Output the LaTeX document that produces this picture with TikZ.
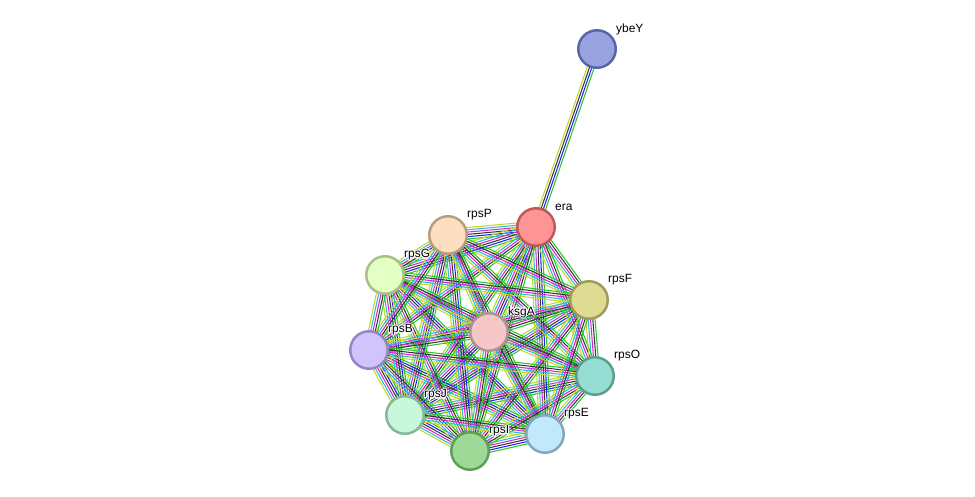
\documentclass[tikz,border=0pt]{standalone}
\usepackage{fontspec}
\setmainfont{Liberation Sans}
\usetikzlibrary{calc,backgrounds}

% evidence channels
\definecolor{tm}{RGB}{196,214,40}
\definecolor{db}{RGB}{45,185,215}
\definecolor{ex}{RGB}{212,40,212}
\definecolor{co}{RGB}{55,55,55}
\definecolor{oc}{RGB}{35,35,240}
\definecolor{nb}{RGB}{40,200,40}

\def\allsix{tm/-3.25pt,db/-1.95pt,ex/-0.65pt,co/0.65pt,oc/1.95pt,nb/3.25pt}
\def\five{tm/-2.6pt,db/-1.3pt,ex/0pt,co/1.3pt,nb/2.6pt}
\def\four{tm/1.95pt,co/0.65pt,oc/-0.65pt,nb/-1.95pt}

\begin{document}
\begin{tikzpicture}[x=0.02cm,y=-0.02cm,
  prot/.style={circle,minimum size=0.75cm,inner sep=0pt,line width=1.4pt},
  lbl/.style={anchor=west,inner sep=0.5pt,font=\fontsize{6.8}{8}\selectfont},
  halo/.style={lbl,text=white}]

\useasboundingbox (0,0) rectangle (975,497);

\newcommand{\prot}[5]{
  \definecolor{#1fill}{HTML}{#4}
  \definecolor{#1line}{HTML}{#5}
  \node[prot,fill=#1fill,draw=#1line] (#1) at (#2,#3) {};
  \foreach \ang in {0,45,...,315}{
    \node[halo] (#1-h\ang) at ($(#1)+(18,-20)+(\ang:0.7pt)$) {#1};
  }
  \node[lbl] (#1-lbl) at ($(#1)+(18,-20)$) {#1};
}
\newcommand{\bundle}[3]{
  \foreach \c/\o in #3{
    \draw[\c,line width=0.6pt] ($(#1)!\o!90:(#2)$) -- ($(#2)!\o!-90:(#1)$);
  }
}

% proteins
\prot{ybeY}{597}{49}{99A3DF}{5A65A8}
\prot{era}{536}{227}{FF9494}{C05858}
\prot{rpsP}{448}{235}{FEDEC0}{B89A7C}
\prot{rpsG}{385}{275}{E4FFC4}{A5BF85}
\prot{rpsF}{589}{300}{DEDB93}{A09B5A}
\prot{ksgA}{489}{332}{F6C6C8}{B39091}
\prot{rpsB}{369}{350}{D1C3FB}{9585C0}
\prot{rpsO}{595}{376}{96DDD3}{5B9E94}
\prot{rpsJ}{405}{415}{C8F7DC}{84B898}
\prot{rpsE}{545}{434}{C2E8FC}{7FA8BD}
\prot{rpsI}{470}{451}{9ED997}{5E9E58}

% interactions
\begin{pgfonlayer}{background}
  \bundle{era}{ybeY}{\four}
  \foreach \a/\b in {era/rpsP,era/rpsG,era/ksgA,rpsP/rpsJ,rpsG/rpsE,
      rpsF/rpsJ,rpsB/rpsE,ksgA/rpsJ,rpsO/rpsJ,rpsG/rpsJ,rpsB/rpsJ,
      rpsJ/rpsI,rpsE/rpsI,rpsP/rpsI,era/rpsE}{
    \bundle{\a}{\b}{\allsix}
  }
  \foreach \a/\b in {era/rpsF,era/rpsB,era/rpsO,era/rpsJ,era/rpsI,
      rpsP/rpsF,rpsP/ksgA,rpsP/rpsO,rpsP/rpsE,
      rpsG/rpsF,rpsG/ksgA,rpsG/rpsO,rpsG/rpsI,
      rpsF/ksgA,rpsF/rpsB,rpsF/rpsI,
      ksgA/rpsB,ksgA/rpsO,ksgA/rpsE,ksgA/rpsI,
      rpsB/rpsO,rpsO/rpsI,rpsP/rpsG,rpsP/rpsB,rpsG/rpsB,
      rpsF/rpsO,rpsF/rpsE,rpsB/rpsI,rpsO/rpsE,rpsJ/rpsE}{
    \bundle{\a}{\b}{\five}
  }
\end{pgfonlayer}
\end{tikzpicture}
\end{document}
